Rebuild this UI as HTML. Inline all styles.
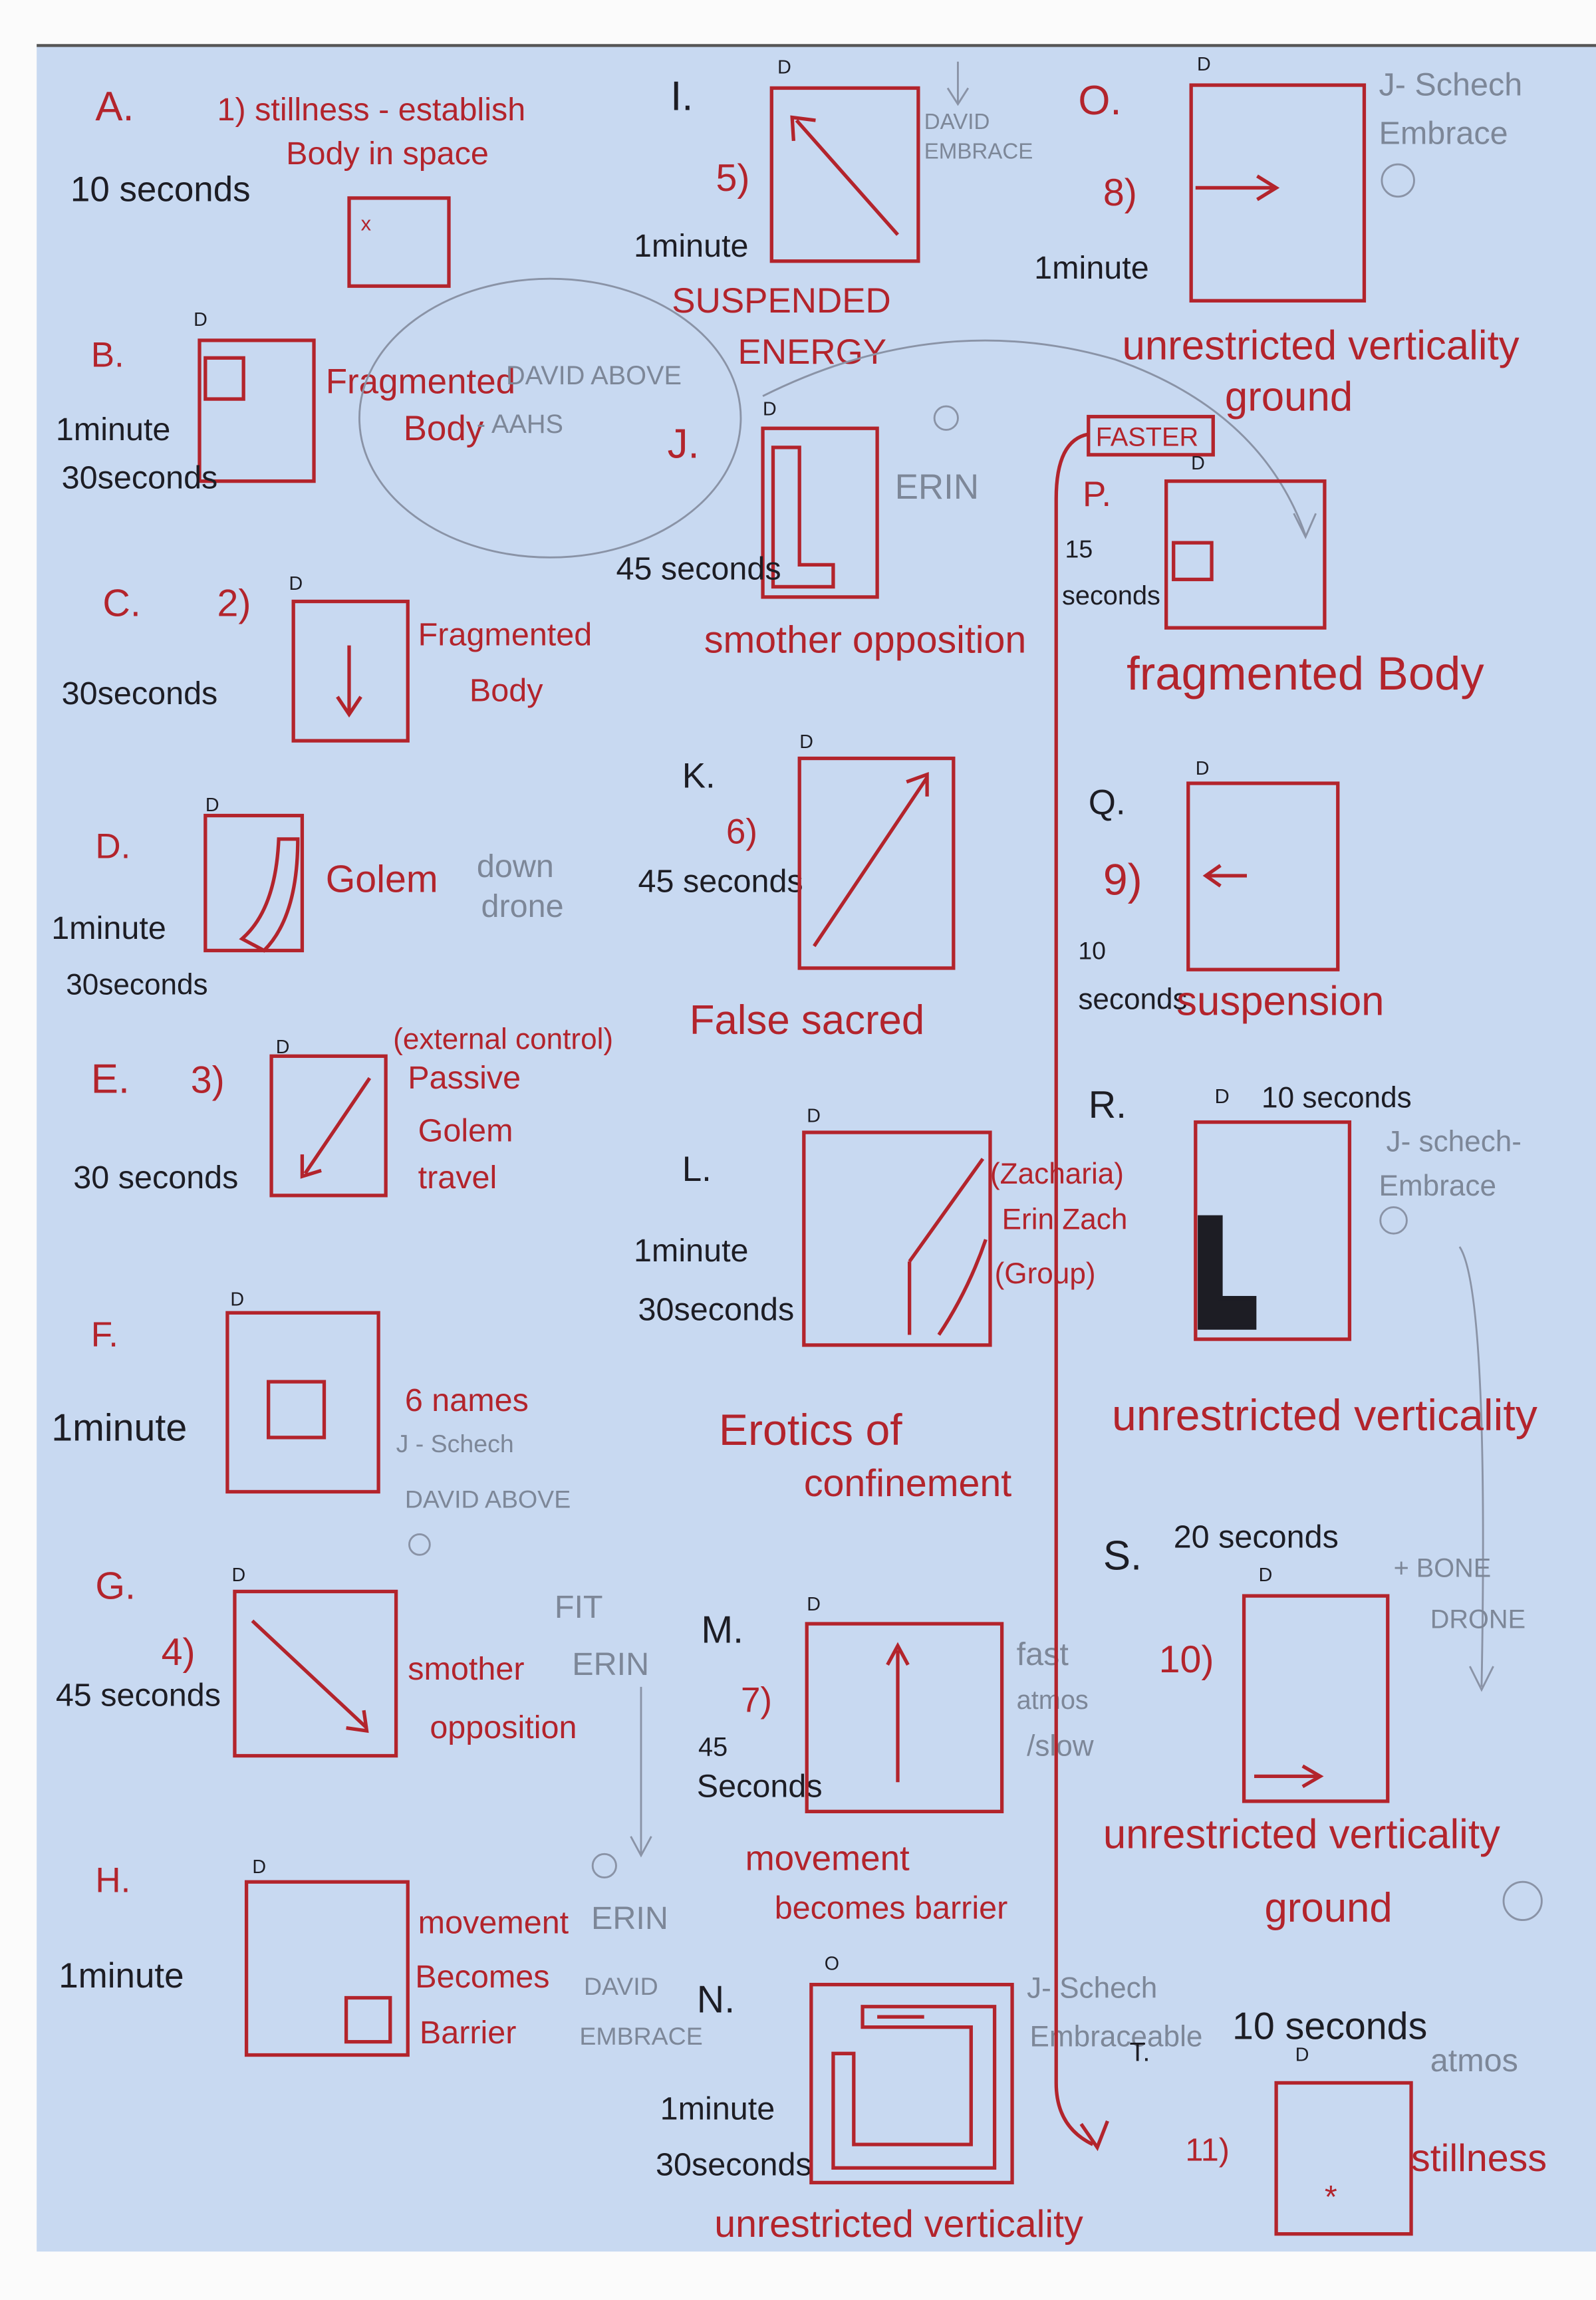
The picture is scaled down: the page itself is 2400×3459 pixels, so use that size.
<!DOCTYPE html>
<html><head><meta charset="utf-8"><style>
html,body{margin:0;padding:0;background:#fff;}
svg{display:block}
.r{fill:#b3242c;font-family:"Liberation Sans Narrow","Liberation Sans",sans-serif;}
.k{fill:#1d1d24;font-family:"Liberation Sans Narrow","Liberation Sans",sans-serif;}
.g{fill:#7d8798;font-family:"Liberation Sans Narrow","Liberation Sans",sans-serif;}
.b{fill:none;stroke:#b3242c;stroke-width:2.4}
.p{fill:none;stroke:#8a93a6;stroke-width:1.3}
</style></head><body>
<svg width="2400" height="3459" viewBox="0 0 1088 1568" xmlns="http://www.w3.org/2000/svg">
<rect x="0" y="0" width="1088" height="1568" fill="#fbfbfb"/>
<rect x="25" y="31" width="1063" height="1504" fill="#c8d9f1"/>
<line x1="25" y1="31" x2="1088" y2="31" stroke="#555" stroke-width="2"/>

<!-- Column 1 -->
<text x="65" y="82" class="r" font-size="28">A.</text>
<text x="148" y="82" class="r" font-size="22">1) stillness - establish</text>
<text x="195" y="112" class="r" font-size="22">Body in space</text>
<text x="48" y="137" class="k" font-size="24">10 seconds</text>
<rect x="238" y="135" width="68" height="60" class="b"/>
<text x="246" y="157" class="r" font-size="14">x</text>

<text x="62" y="250" class="r" font-size="24">B.</text>
<text x="132" y="222" class="k" font-size="13">D</text>
<rect x="136" y="232" width="78" height="96" class="b"/>
<rect x="140" y="244" width="26" height="28" class="b"/>
<text x="38" y="300" class="k" font-size="22">1minute</text>
<text x="42" y="333" class="k" font-size="22">30seconds</text>
<text x="222" y="268" class="r" font-size="24">Fragmented</text>
<text x="345" y="262" class="g" font-size="18">DAVID ABOVE</text>
<text x="275" y="300" class="r" font-size="24">Body</text>
<text x="325" y="295" class="g" font-size="18">- AAHS</text>
<ellipse cx="375" cy="285" rx="130" ry="95" class="p"/>

<text x="70" y="420" class="r" font-size="26">C.</text>
<text x="148" y="420" class="r" font-size="26">2)</text>
<text x="42" y="480" class="k" font-size="22">30seconds</text>
<text x="197" y="402" class="k" font-size="13">D</text>
<rect x="200" y="410" width="78" height="95" class="b"/>
<line x1="238" y1="440" x2="238" y2="485" class="b"/>
<path d="M230 475 L238 487 L246 475" class="b"/>
<text x="285" y="440" class="r" font-size="22">Fragmented</text>
<text x="320" y="478" class="r" font-size="22">Body</text>

<text x="65" y="585" class="r" font-size="24">D.</text>
<text x="140" y="553" class="k" font-size="13">D</text>
<rect x="140" y="556" width="66" height="92" class="b"/>
<path d="M190 572 Q188 620 165 640 L180 648 Q203 625 203 572 Z" class="b"/>
<text x="35" y="640" class="k" font-size="22">1minute</text>
<text x="45" y="678" class="k" font-size="20">30seconds</text>
<text x="222" y="608" class="r" font-size="26">Golem</text>
<text x="325" y="598" class="g" font-size="22">down</text>
<text x="328" y="625" class="g" font-size="22">drone</text>

<text x="62" y="745" class="r" font-size="28">E.</text>
<text x="130" y="745" class="r" font-size="26">3)</text>
<text x="50" y="810" class="k" font-size="22">30 seconds</text>
<text x="188" y="718" class="k" font-size="13">D</text>
<rect x="185" y="720" width="78" height="95" class="b"/>
<line x1="252" y1="735" x2="208" y2="800" class="b"/>
<path d="M206 787 L206 802 L219 798" class="b"/>
<text x="268" y="715" class="r" font-size="20">(external control)</text>
<text x="278" y="742" class="r" font-size="22">Passive</text>
<text x="285" y="778" class="r" font-size="22">Golem</text>
<text x="285" y="810" class="r" font-size="22">travel</text>

<text x="62" y="918" class="r" font-size="24">F.</text>
<text x="35" y="982" class="k" font-size="26">1minute</text>
<text x="157" y="890" class="k" font-size="13">D</text>
<rect x="155" y="895" width="103" height="122" class="b"/>
<rect x="183" y="942" width="38" height="38" class="b"/>
<text x="276" y="962" class="r" font-size="22">6 names</text>
<text x="270" y="990" class="g" font-size="17">J - Schech</text>
<text x="276" y="1028" class="g" font-size="17">DAVID ABOVE</text>
<circle cx="286" cy="1053" r="7" class="p"/>

<text x="65" y="1090" class="r" font-size="26">G.</text>
<text x="110" y="1135" class="r" font-size="26">4)</text>
<text x="38" y="1163" class="k" font-size="22">45 seconds</text>
<text x="158" y="1078" class="k" font-size="13">D</text>
<rect x="160" y="1085" width="110" height="112" class="b"/>
<line x1="172" y1="1105" x2="250" y2="1178" class="b"/>
<path d="M236 1178 L250 1180 L248 1166" class="b"/>
<text x="278" y="1145" class="r" font-size="22">smother</text>
<text x="293" y="1185" class="r" font-size="22">opposition</text>
<text x="378" y="1103" class="g" font-size="22">FIT</text>
<text x="390" y="1142" class="g" font-size="22">ERIN</text>
<line x1="437" y1="1150" x2="437" y2="1265" class="p"/>
<path d="M430 1252 L437 1265 L444 1252" class="p"/>

<text x="65" y="1290" class="r" font-size="24">H.</text>
<text x="40" y="1355" class="k" font-size="24">1minute</text>
<text x="172" y="1277" class="k" font-size="13">D</text>
<rect x="168" y="1283" width="110" height="118" class="b"/>
<rect x="236" y="1362" width="30" height="30" class="b"/>
<text x="285" y="1318" class="r" font-size="22">movement</text>
<text x="283" y="1355" class="r" font-size="22">Becomes</text>
<text x="286" y="1393" class="r" font-size="22">Barrier</text>
<text x="403" y="1315" class="g" font-size="22">ERIN</text>
<text x="398" y="1360" class="g" font-size="17">DAVID</text>
<text x="395" y="1394" class="g" font-size="17">EMBRACE</text>
<circle cx="412" cy="1272" r="8" class="p"/>

<!-- Column 2 -->
<text x="457" y="75" class="k" font-size="28">I.</text>
<text x="488" y="130" class="r" font-size="26">5)</text>
<text x="432" y="175" class="k" font-size="22">1minute</text>
<text x="530" y="50" class="k" font-size="13">D</text>
<rect x="526" y="60" width="100" height="118" class="b"/>
<line x1="612" y1="160" x2="543" y2="82" class="b"/>
<path d="M541 96 L540 80 L556 82" class="b"/>
<text x="630" y="88" class="g" font-size="15">DAVID</text>
<text x="630" y="108" class="g" font-size="15">EMBRACE</text>
<line x1="653" y1="42" x2="653" y2="70" class="p"/>
<path d="M646 60 L653 71 L660 60" class="p"/>
<text x="458" y="213" class="r" font-size="24">SUSPENDED</text>
<text x="503" y="248" class="r" font-size="24">ENERGY</text>
<text x="455" y="312" class="r" font-size="28">J.</text>
<text x="520" y="283" class="k" font-size="13">D</text>
<rect x="520" y="292" width="78" height="115" class="b"/>
<path d="M527 305 L545 305 L545 385 L568 385 L568 400 L527 400 Z" class="b"/>
<text x="420" y="395" class="k" font-size="22">45 seconds</text>
<circle cx="645" cy="285" r="8" class="p"/>
<text x="610" y="340" class="g" font-size="24">ERIN</text>
<text x="480" y="445" class="r" font-size="26">smother opposition</text>
<path d="M520 270 Q640 210 760 245 Q860 280 890 365" class="p"/>
<path d="M882 350 L890 366 L897 350" class="p"/>

<text x="465" y="537" class="k" font-size="24">K.</text>
<text x="495" y="575" class="r" font-size="24">6)</text>
<text x="435" y="608" class="k" font-size="22">45 seconds</text>
<text x="545" y="510" class="k" font-size="13">D</text>
<rect x="545" y="517" width="105" height="143" class="b"/>
<line x1="555" y1="645" x2="632" y2="530" class="b"/>
<path d="M618 533 L632 528 L632 543" class="b"/>
<text x="470" y="705" class="r" font-size="28">False sacred</text>

<text x="465" y="805" class="k" font-size="24">L.</text>
<text x="432" y="860" class="k" font-size="22">1minute</text>
<text x="435" y="900" class="k" font-size="22">30seconds</text>
<text x="550" y="765" class="k" font-size="13">D</text>
<rect x="548" y="772" width="127" height="145" class="b"/>
<line x1="620" y1="860" x2="670" y2="790" class="b"/>
<line x1="620" y1="860" x2="620" y2="910" class="b"/>
<path d="M640 910 Q660 880 672 845" class="b"/>
<text x="675" y="807" class="r" font-size="20">(Zacharia)</text>
<text x="683" y="838" class="r" font-size="20">Erin Zach</text>
<text x="678" y="875" class="r" font-size="20">(Group)</text>
<text x="490" y="985" class="r" font-size="30">Erotics of</text>
<text x="548" y="1020" class="r" font-size="26">confinement</text>

<text x="478" y="1120" class="k" font-size="26">M.</text>
<text x="505" y="1167" class="r" font-size="24">7)</text>
<text x="476" y="1197" class="k" font-size="18">45</text>
<text x="475" y="1225" class="k" font-size="22">Seconds</text>
<text x="550" y="1098" class="k" font-size="13">D</text>
<rect x="550" y="1107" width="133" height="128" class="b"/>
<line x1="612" y1="1215" x2="612" y2="1125" class="b"/>
<path d="M605 1135 L612 1122 L619 1135" class="b"/>
<text x="693" y="1135" class="g" font-size="22">fast</text>
<text x="693" y="1165" class="g" font-size="18">atmos</text>
<text x="700" y="1197" class="g" font-size="20">/slow</text>
<text x="508" y="1275" class="r" font-size="24">movement</text>
<text x="528" y="1308" class="r" font-size="22">becomes barrier</text>

<text x="475" y="1372" class="k" font-size="26">N.</text>
<text x="450" y="1445" class="k" font-size="22">1minute</text>
<text x="447" y="1483" class="k" font-size="22">30seconds</text>
<text x="562" y="1343" class="k" font-size="13">O</text>
<rect x="553" y="1353" width="137" height="135" class="b"/>
<path d="M568 1400 L568 1478 L678 1478 L678 1368 L588 1368 L588 1382 L662 1382 L662 1462 L582 1462 L582 1400 Z" class="b"/>
<line x1="598" y1="1375" x2="630" y2="1375" class="b"/>
<text x="700" y="1362" class="g" font-size="20">J- Schech</text>
<text x="702" y="1395" class="g" font-size="20">Embraceable</text>
<text x="487" y="1525" class="r" font-size="26">unrestricted verticality</text>

<!-- Column 3 -->
<text x="735" y="78" class="r" font-size="28">O.</text>
<text x="752" y="140" class="r" font-size="26">8)</text>
<text x="705" y="190" class="k" font-size="22">1minute</text>
<text x="816" y="48" class="k" font-size="13">D</text>
<rect x="812" y="58" width="118" height="147" class="b"/>
<line x1="815" y1="128" x2="868" y2="128" class="b"/>
<path d="M857 120 L870 128 L857 136" class="b"/>
<text x="940" y="65" class="g" font-size="22">J- Schech</text>
<text x="940" y="98" class="g" font-size="22">Embrace</text>
<circle cx="953" cy="123" r="11" class="p"/>
<text x="765" y="245" class="r" font-size="28">unrestricted verticality</text>
<text x="835" y="280" class="r" font-size="28">ground</text>

<rect x="742" y="284" width="85" height="26" class="b"/>
<text x="747" y="304" class="r" font-size="18">FASTER</text>
<path d="M742 296 Q720 300 720 340 L720 1420 Q720 1450 745 1462" class="b"/>
<path d="M737 1448 L748 1464 L755 1446" class="b"/>
<text x="738" y="345" class="r" font-size="24">P.</text>
<text x="726" y="380" class="k" font-size="17">15</text>
<text x="724" y="412" class="k" font-size="18">seconds</text>
<text x="812" y="320" class="k" font-size="13">D</text>
<rect x="795" y="328" width="108" height="100" class="b"/>
<rect x="800" y="370" width="26" height="25" class="b"/>
<text x="768" y="470" class="r" font-size="32">fragmented Body</text>

<text x="742" y="555" class="k" font-size="24">Q.</text>
<text x="752" y="610" class="r" font-size="30">9)</text>
<text x="735" y="654" class="k" font-size="17">10</text>
<text x="735" y="688" class="k" font-size="20">seconds</text>
<text x="815" y="528" class="k" font-size="13">D</text>
<rect x="810" y="534" width="102" height="127" class="b"/>
<line x1="850" y1="597" x2="823" y2="597" class="b"/>
<path d="M832 590 L822 597 L832 604" class="b"/>
<text x="802" y="692" class="r" font-size="28">suspension</text>

<text x="742" y="762" class="k" font-size="26">R.</text>
<text x="828" y="752" class="k" font-size="14">D</text>
<text x="860" y="755" class="k" font-size="20">10 seconds</text>
<rect x="815" y="765" width="105" height="148" class="b"/>
<path d="M818 830 L832 830 L832 885 L855 885 L855 905 L818 905 Z" fill="#1d1d24" stroke="#1d1d24" stroke-width="3"/>
<text x="945" y="785" class="g" font-size="20">J- schech-</text>
<text x="940" y="815" class="g" font-size="20">Embrace</text>
<circle cx="950" cy="832" r="9" class="p"/>
<path d="M995 850 Q1015 880 1010 1150" class="p"/>
<path d="M1002 1136 L1010 1152 L1018 1136" class="p"/>
<text x="758" y="975" class="r" font-size="30">unrestricted verticality</text>

<text x="752" y="1070" class="k" font-size="28">S.</text>
<text x="800" y="1055" class="k" font-size="22">20 seconds</text>
<text x="950" y="1075" class="g" font-size="18">+ BONE</text>
<text x="975" y="1110" class="g" font-size="18">DRONE</text>
<text x="790" y="1140" class="r" font-size="26">10)</text>
<text x="858" y="1078" class="k" font-size="13">D</text>
<rect x="848" y="1088" width="98" height="140" class="b"/>
<line x1="855" y1="1211" x2="898" y2="1211" class="b"/>
<path d="M888 1204 L900 1211 L888 1218" class="b"/>
<text x="752" y="1260" class="r" font-size="28">unrestricted verticality</text>
<text x="862" y="1310" class="r" font-size="28">ground</text>
<circle cx="1038" cy="1296" r="13" class="p"/>

<text x="840" y="1390" class="k" font-size="26">10 seconds</text>
<text x="770" y="1405" class="k" font-size="18">T.</text>
<text x="975" y="1412" class="g" font-size="22">atmos</text>
<text x="883" y="1405" class="k" font-size="13">D</text>
<text x="808" y="1473" class="r" font-size="22">11)</text>
<rect x="870" y="1420" width="92" height="103" class="b"/>
<text x="903" y="1505" class="r" font-size="22">*</text>
<text x="962" y="1480" class="r" font-size="26">stillness</text>
</svg>
</body></html>
